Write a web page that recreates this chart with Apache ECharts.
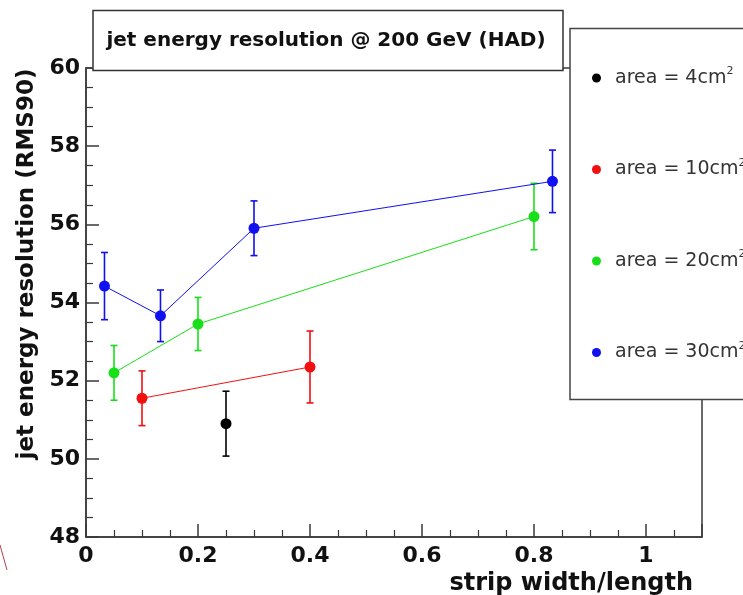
<!DOCTYPE html>
<html>
<head>
<meta charset="utf-8">
<title>jet energy resolution @ 200 GeV (HAD)</title>
<script src="https://cdn.jsdelivr.net/npm/echarts@6/dist/echarts.min.js"></script>
<style>
  html, body { margin: 0; padding: 0; background: #fff; }
  #chart { width: 743px; height: 595px; }
</style>
</head>
<body>
<div id="chart"></div>
<script>
// Strip width/length for each readout-cell area, with jet energy resolution (RMS90) and its error.
const seriesNames = ['area = 4cm2', 'area = 10cm2', 'area = 20cm2', 'area = 30cm2'];
const seriesColors = ['#000000', '#f01010', '#18e018', '#1010f0'];

const ratio4  = [0.25];
const res4    = [50.9];
const err4    = [0.83];

const ratio10 = [0.1, 0.4];
const res10   = [51.55, 52.35];
const err10   = [0.7, 0.92];

const ratio20 = [0.05, 0.2, 0.8];
const res20   = [52.2, 53.45, 56.2];
const err20   = [0.7, 0.68, 0.85];

const ratio30 = [0.033, 0.133, 0.3, 0.833];
const res30   = [54.42, 53.66, 55.9, 57.1];
const err30   = [0.86, 0.66, 0.7, 0.8];

const xTicks = { min: 0, max: 1.1, step: 0.2 };
const yTicks = { min: 48, max: 60, step: 2 };

const groups = [
  [ratio4, res4, err4],
  [ratio10, res10, err10],
  [ratio20, res20, err20],
  [ratio30, res30, err30]
];

const boldFont = 'DejaVu Sans';

// vertical error bar with short caps at both ends
function errorBarItem(params, api) {
  const x = api.value(0);
  const top = api.coord([x, api.value(2)]);
  const bot = api.coord([x, api.value(1)]);
  const cap = 3.5;
  const style = { stroke: api.visual('color'), lineWidth: 1.6 };
  return {
    type: 'group',
    children: [
      { type: 'line', shape: { x1: top[0], y1: top[1], x2: bot[0], y2: bot[1] }, style: style },
      { type: 'line', shape: { x1: top[0] - cap, y1: top[1], x2: top[0] + cap, y2: top[1] }, style: style },
      { type: 'line', shape: { x1: bot[0] - cap, y1: bot[1], x2: bot[0] + cap, y2: bot[1] }, style: style }
    ]
  };
}

const series = [];
groups.forEach(function (g, i) {
  const xs = g[0], ys = g[1], es = g[2];
  series.push({
    type: 'custom',
    name: seriesNames[i],
    renderItem: errorBarItem,
    itemStyle: { color: seriesColors[i] },
    encode: { x: 0, y: [1, 2] },
    data: xs.map(function (x, k) { return [x, ys[k] - es[k], ys[k] + es[k]]; }),
    z: 3,
    silent: true
  });
  series.push({
    type: 'line',
    name: seriesNames[i],
    data: xs.map(function (x, k) { return [x, ys[k]]; }),
    symbol: 'circle',
    symbolSize: 11,
    showSymbol: true,
    itemStyle: { color: seriesColors[i] },
    lineStyle: { color: seriesColors[i], width: 1 },
    z: 4,
    animation: false
  });
});

const chart = echarts.init(document.getElementById('chart'), null, { renderer: 'canvas' });

chart.setOption({
  animation: false,
  backgroundColor: '#ffffff',
  grid: {
    left: 86, right: 41, top: 68, bottom: 58,
    show: true, borderColor: '#3a3a3a', borderWidth: 1.5, backgroundColor: 'transparent'
  },
  xAxis: {
    type: 'value',
    min: xTicks.min, max: xTicks.max, interval: xTicks.step,
    axisLine: { show: true, lineStyle: { color: '#3a3a3a', width: 1.5 } },
    axisTick: { show: true, inside: true, length: 13, lineStyle: { color: '#3a3a3a', width: 1.5 } },
    minorTick: { show: true, splitNumber: 4, length: 7, lineStyle: { color: '#3a3a3a', width: 1.2 } },
    splitLine: { show: false },
    axisLabel: {
      margin: 8, color: '#111', fontFamily: boldFont, fontWeight: 'bold', fontSize: 22,
      showMaxLabel: false,
      formatter: function (v) { return v > 1.05 ? '' : String(+v.toFixed(1)); }
    }
  },
  yAxis: {
    type: 'value',
    min: yTicks.min, max: yTicks.max, interval: yTicks.step,
    axisLine: { show: true, lineStyle: { color: '#3a3a3a', width: 1.5 } },
    axisTick: { show: true, inside: true, length: 13, lineStyle: { color: '#3a3a3a', width: 1.5 } },
    minorTick: { show: true, splitNumber: 4, length: 7, lineStyle: { color: '#3a3a3a', width: 1.2 } },
    splitLine: { show: false },
    axisLabel: {
      margin: 6, color: '#111', fontFamily: boldFont, fontWeight: 'bold', fontSize: 22
    }
  },
  legend: {
    orient: 'vertical',
    left: 587, top: 61,
    itemWidth: 9, itemHeight: 9, itemGap: 70,
    icon: 'circle',
    data: seriesNames,
    selectedMode: false,
    formatter: function (name) {
      return '{a|' + name.slice(0, -1) + '}{sup|2}';
    },
    textStyle: {
      color: '#333',
      rich: {
        a: { fontFamily: 'DejaVu Sans', fontSize: 19, color: '#333', lineHeight: 24, padding: [0, 0, 0, 9] },
        sup: { fontFamily: 'DejaVu Sans', fontSize: 11, color: '#333', lineHeight: 24, verticalAlign: 'top' }
      }
    },
    z: 20
  },
  graphic: [
    // legend frame
    { type: 'rect', z: 10, shape: { x: 570, y: 28.5, width: 180, height: 371 },
      style: { fill: '#fff', stroke: '#444', lineWidth: 1.5 } },
    // title box and text
    { type: 'rect', z: 10, shape: { x: 93, y: 10.5, width: 470, height: 60 },
      style: { fill: '#fff', stroke: '#333', lineWidth: 1.5 } },
    { type: 'text', z: 11, x: 326, y: 41,
      style: { text: 'jet energy resolution @ 200 GeV (HAD)', fill: '#111',
        font: 'bold 20px "DejaVu Sans"', textAlign: 'center', textVerticalAlign: 'middle' } },
    // axis titles
    { type: 'text', z: 11, x: 27, y: 264, rotation: Math.PI / 2,
      style: { text: 'jet energy resolution (RMS90)', fill: '#111',
        font: 'bold 23px "DejaVu Sans"', textAlign: 'center', textVerticalAlign: 'middle' } },
    { type: 'text', z: 11, x: 693, y: 584,
      style: { text: 'strip width/length', fill: '#111',
        font: 'bold 24px "DejaVu Sans"', textAlign: 'right', textVerticalAlign: 'middle' } },
    // stray pen stroke at the lower left edge
    { type: 'line', z: 1, shape: { x1: 0, y1: 545, x2: 7, y2: 570 },
      style: { stroke: '#b04050', lineWidth: 1 } }
  ],
  series: series
});
</script>
</body>
</html>
